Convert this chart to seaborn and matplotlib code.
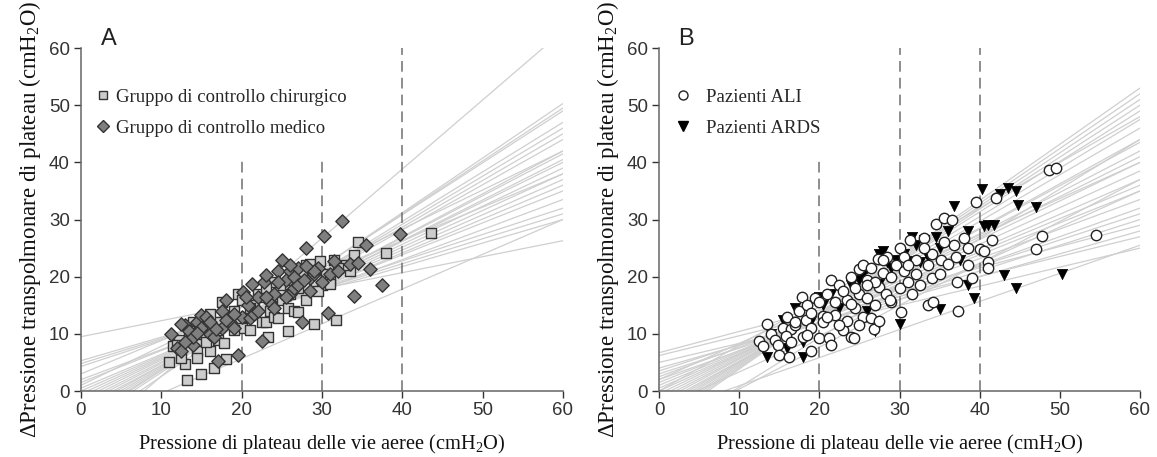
import numpy as np
import pandas as pd
import matplotlib
matplotlib.use("Agg")
import matplotlib.pyplot as plt
import seaborn as sns
from matplotlib.lines import Line2D

# ---------------- data: panel A ----------------
surg_x = [11, 13.2, 13, 12.5, 11.5, 12.2, 13, 14.5, 14.5, 15, 16, 16.5, 17, 17.5, 18, 17.8, 19.5, 20, 20, 21,
          21.5, 22.5, 23, 23.3, 23.5, 24, 24.5, 25, 25.8, 25.8, 26.5, 26, 27, 28, 28, 28.5, 29, 29.8, 30, 30.5,
          31, 31.5, 31.8, 33.5, 34, 34.5, 38, 43.6, 15.3, 14, 16.2, 18.5, 19, 22, 24.8, 26.8, 27.5, 29.5, 31,
          13.5, 15.5, 17, 20.5, 21, 22.5, 24, 27, 33, 12, 16, 19, 23, 26, 32]
surg_y = [5, 2, 4.8, 5.8, 7.8, 9, 11.5, 7, 5.7, 3, 7, 4, 9, 15.5, 5.6, 8.4, 17, 16, 11, 10.7,
          15, 12, 12, 9.5, 14, 13, 12.8, 16, 10.5, 14.5, 14, 17, 18, 16, 22, 22.3, 11.7, 22.8, 18.5, 20.5,
          19.5, 23, 12.5, 21, 23.8, 26, 24.2, 27.7, 10, 12, 11.5, 13, 10.7, 17, 18.5, 20, 21, 17.5, 18.8,
          10.5, 8.5, 12, 13, 14.5, 16.5, 19, 13.8, 22, 8, 13.5, 14, 18, 19.5, 21.5]
med_x = [11.2, 12, 12.5, 13, 13.5, 14, 14.5, 15, 15.5, 16, 16, 17, 17.5, 18, 18.5, 19, 19.5, 20, 20.2, 20.8,
         21, 21.5, 21.3, 22, 22.5, 22.8, 23, 23.5, 24, 24.5, 25, 25.5, 26, 26, 26.5, 27, 27.5, 28, 28.5, 29,
         29.5, 30, 30.3, 30.8, 31, 31.5, 32, 32.5, 33.5, 34, 34.5, 35.5, 36, 37.5, 39.7, 14, 15, 16.5, 17.5, 18,
         19, 22, 23, 24.5, 25.5, 26.5, 27, 27.8, 28.5, 29, 13, 12.5, 14.5, 16.8, 20.5, 24, 26, 28]
med_y = [10, 7.5, 7, 11.5, 10.5, 8, 12, 13.3, 13, 10, 12, 5.3, 11, 16, 12, 11, 6.3, 13, 17.3, 15,
         12.8, 13.5, 18.7, 16.5, 8.8, 19, 20.3, 15.5, 17, 21, 23, 19.5, 17, 21, 18, 21.5, 12, 25, 19.8, 20.5,
         21.5, 19, 27.1, 13.7, 20.5, 22.8, 21, 29.8, 22.2, 16.6, 22.4, 25.6, 21.3, 18.6, 27.5, 9.5, 11, 9.5, 14, 12.5,
         13.5, 14, 16.5, 19, 16.5, 20, 18.5, 19.5, 17.5, 21, 8.5, 11.8, 10.2, 10.8, 16.5, 14.5, 22, 21.8]
# individual regression lines: value at x=0 and at x=60
linesA_y0 = [9.5, 5.3, 4.8, 4.3, 2, 1.5, 0.5, 0, -0.5, -1, -1.5, -2, -2.5, -3, -3.5, -4, -4.5, -5, -5.5, -6,
             -7, -9.5, -6.5, 3, 1]
linesA_y60 = [26.3, 30, 31, 32, 33.5, 35, 36, 37, 38, 39, 40, 40.5, 41.5, 42, 44, 45, 46, 47, 49, 49.5,
              50.3, 63, 30, 38, 42]

# ---------------- data: panel B ----------------
ali_x = [12.5, 13, 13.5, 14, 14.5, 14.8, 15, 15.5, 16, 16.2, 16.5, 17, 17.5, 17.8, 18, 18.3, 18.5, 19, 19, 19.5,
         20, 20.5, 20.5, 21, 21.2, 21.5, 21.5, 22, 22, 22.5, 23, 23.5, 23.5, 24, 24, 24.3, 24.5, 25, 25, 25.5,
         26, 26, 26.5, 26.8, 27, 27.3, 27.5, 27.5, 28, 28.3, 28.5, 29, 29.5, 30, 30, 30.2, 30.5, 31, 31.3, 31.5,
         32, 32.5, 33, 33.5, 33.5, 34, 34, 34.5, 35, 35.2, 35.5, 36.5, 36.8, 37, 37.2, 37.3, 38, 38.5, 38.5, 39,
         39.5, 40, 40.5, 41, 41, 41.5, 42, 47, 47.8, 48.7, 49.5, 54.5, 15.8, 17, 19, 20, 22.5, 23, 24.5, 25.5,
         26.5, 27, 28, 29, 30.5, 32, 33, 35.5, 36, 34.2, 16.5, 18.5, 21, 24, 26, 28.8, 31, 25]
ali_y = [8.7, 7.8, 11.7, 10, 9, 8, 6.3, 11, 13, 5.9, 10.8, 11.5, 14, 16.5, 9.5, 12.5, 15, 7, 11, 16.3,
         9.3, 13.2, 12, 17, 9.3, 19.5, 8.1, 15.5, 13.3, 18.5, 10.6, 16, 12.3, 9.5, 20, 9.3, 14.5, 17, 21.3, 13,
         19.5, 16.3, 12.8, 10.8, 15, 23.1, 18.2, 12.3, 20.6, 17, 23.5, 15.5, 22, 18, 25, 13.8, 21, 19.1, 26.5, 17,
         23, 18.6, 26.7, 22.1, 15, 19.8, 24, 29.3, 20.4, 23, 30.3, 30, 25.6, 23.5, 19.1, 14, 26.8, 25, 22, 19.8,
         33.1, 24.9, 24.5, 22.5, 21.6, 26.5, 33.8, 24.9, 27.1, 38.6, 39, 27.3, 9.7, 12, 13.7, 15.5, 11.5, 17.5, 18, 22,
         21.5, 19, 23, 20, 23.5, 20.5, 25, 26, 22.3, 15.6, 8.5, 9.8, 13, 15.2, 18.5, 16, 22, 11.5]
ards_x = [13.5, 14, 15.5, 16, 17, 18, 18, 19, 20, 20.5, 21.5, 22.5, 23, 24, 25, 25.5, 26, 27, 27.5, 28,
          28.5, 29, 29.5, 30, 30.5, 31.5, 32, 32.5, 33, 33.5, 34.5, 35, 35, 36, 36.8, 37.5, 38.5, 38.5, 39.3, 40.3,
          40.5, 41, 41.8, 42.5, 43, 43.5, 44.5, 44.5, 44.8, 47, 50.3, 31, 27.5, 26]
ards_y = [6, 10, 12.5, 7.5, 14.5, 6, 8.5, 12.3, 16.5, 15, 17, 14.5, 11, 18.5, 19.5, 20.5, 14, 10.5, 18.8, 24.5,
          22.5, 21.5, 23, 11.7, 24, 27, 25.5, 22.5, 26.5, 23.5, 27, 14.3, 25, 28, 32.3, 23, 28, 18.5, 16.2, 35.4,
          28.8, 29, 29, 34.5, 20.3, 35.5, 35, 18, 32.5, 32.2, 20.4, 22.8, 24, 21.5]
linesB_y0 = [6.7, 6.2, 5, 4, 3.5, 3, 2.5, 2, 1.5, 1, 0.5, 0, -0.5, -1, -1.5, -2, -2.5, -3, -3.5, -4,
             -4.5, -5, -5.5, -6, -4, -7, -8, -3, 2, 0]
linesB_y60 = [29, 27, 25, 28, 31, 30, 33.5, 32, 35, 36, 37, 38.5, 40, 41, 42, 43.5, 44, 46, 47.5, 49,
              50, 51, 52, 53, 25.5, 37, 44, 35, 40, 48]

ticks = [0, 10, 20, 30, 40, 50, 60]
xlabel = "Pressione di plateau delle vie aeree (cmH$_2$O)"
ylabel = "\u0394Pressione transpolmonare di plateau (cmH$_2$O)"

# ---------------- style ----------------
sns.set_theme(style="ticks")
plt.rcParams['font.family'] = ['Liberation Sans', 'DejaVu Sans']
plt.rcParams['mathtext.fontset'] = 'custom'
plt.rcParams['mathtext.rm'] = 'Liberation Serif'
plt.rcParams['mathtext.it'] = 'Liberation Serif'

fig = plt.figure(figsize=(11.57, 4.57), dpi=100)
axA = fig.add_axes([0.070, 0.1444, 0.4166, 0.7505])
axB = fig.add_axes([0.5696, 0.1444, 0.4157, 0.7505])

serif = ['Liberation Serif', 'DejaVu Serif']
line_col = '#cfcfcf'
dash_col = '#6f6f6f'


def base(ax, lines0, lines60, dashes, letter, lx):
    for b, e in zip(lines0, lines60):
        ax.plot([0, 60], [b, e], color=line_col, lw=0.9, zorder=1)
    for xv, top in dashes:
        ax.plot([xv, xv], [0, top], color=dash_col, lw=1.1, ls=(0, (7, 4)), zorder=2)
    ax.set_xlim(0, 60)
    ax.set_ylim(0, 60)
    ax.set_xticks(ticks)
    ax.set_yticks(ticks)
    ax.tick_params(labelsize=13.5, colors='#333333', length=5, width=1, direction='out', pad=3)
    for s in ['top', 'right']:
        ax.spines[s].set_visible(False)
    for s in ['left', 'bottom']:
        ax.spines[s].set_color('#666666')
        ax.spines[s].set_linewidth(1.1)
    fig.text(lx, 0.915, letter, fontsize=17, color='#222222', ha='center', va='center')


base(axA, linesA_y0, linesA_y60, [(20, 41), (30, 41), (40, 60)], 'A', 0.094)
base(axB, linesB_y0, linesB_y60, [(20, 41), (30, 60), (40, 60)], 'B', 0.593)

dfA_s = pd.DataFrame({'x': surg_x, 'y': surg_y})
dfA_m = pd.DataFrame({'x': med_x, 'y': med_y})
sns.scatterplot(data=dfA_s, x='x', y='y', ax=axA, marker='s', s=50, color='#cccccc',
                edgecolor='#333333', linewidth=1.0, zorder=3, legend=False)
sns.scatterplot(data=dfA_m, x='x', y='y', ax=axA, marker='D', s=46, color='#7f7f7f',
                edgecolor='#333333', linewidth=1.0, zorder=4, legend=False)

dfB_a = pd.DataFrame({'x': ali_x, 'y': ali_y})
dfB_r = pd.DataFrame({'x': ards_x, 'y': ards_y})
sns.scatterplot(data=dfB_r, x='x', y='y', ax=axB, marker='v', s=55, color='black',
                edgecolor='black', linewidth=0.5, zorder=3, legend=False)
sns.scatterplot(data=dfB_a, x='x', y='y', ax=axB, marker='o', s=56, color='white',
                edgecolor='#222222', linewidth=1.0, zorder=4, legend=False)
for ax in (axA, axB):
    ax.set_xlabel(xlabel, fontsize=14.7, family=serif, color='#111111', labelpad=9)
    ax.set_ylabel(ylabel, fontsize=16.5, family=serif, color='#111111', labelpad=4)

hA = [Line2D([], [], ls='', marker='s', ms=6, mfc='#cccccc', mec='#333333', mew=1.0),
      Line2D([], [], ls='', marker='D', ms=6, mfc='#7f7f7f', mec='#333333', mew=1.0)]
axA.legend(hA, ['Gruppo di controllo chirurgico', 'Gruppo di controllo medico'],
           loc='upper left', bbox_to_anchor=(0.0, 0.92), frameon=False,
           prop={'family': serif, 'size': 13.5}, handletextpad=0.15, labelspacing=0.75,
           handlelength=1.0, borderaxespad=0.3)
hB = [Line2D([], [], ls='', marker='o', ms=6.5, mfc='white', mec='#222222', mew=1.0),
      Line2D([], [], ls='', marker='v', ms=7, mfc='black', mec='black')]
axB.legend(hB, ['Pazienti ALI', 'Pazienti ARDS'],
           loc='upper left', bbox_to_anchor=(0.0, 0.92), frameon=False,
           prop={'family': serif, 'size': 13.5}, handletextpad=0.6, labelspacing=0.75,
           handlelength=1.2, borderaxespad=0.3)

fig.savefig('out.png', dpi=100)
